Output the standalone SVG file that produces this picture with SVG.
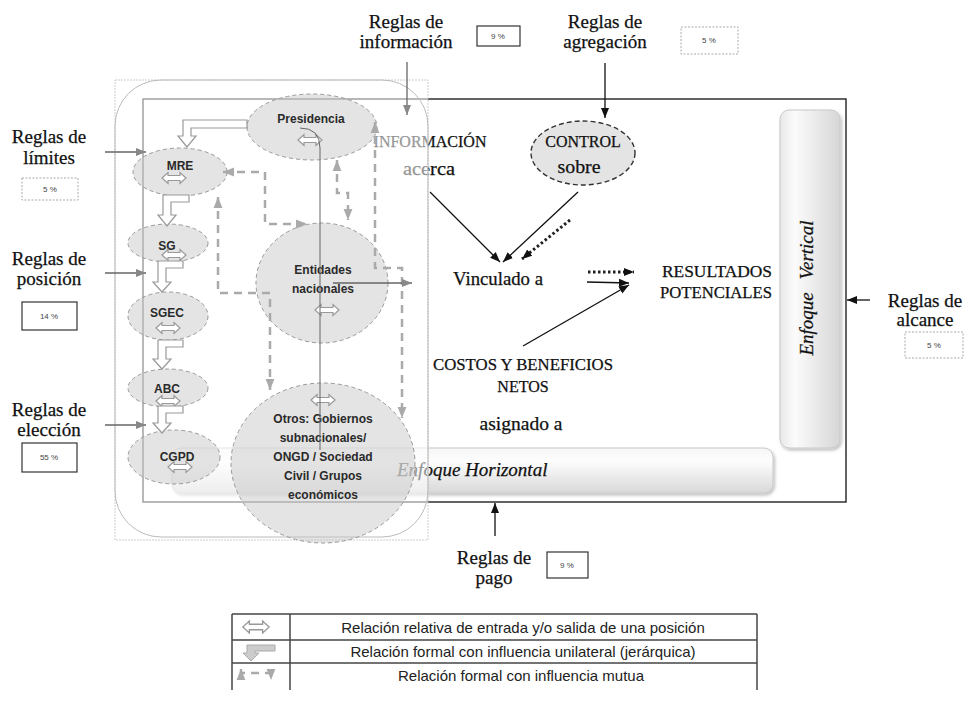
<svg xmlns="http://www.w3.org/2000/svg" width="965" height="727" viewBox="0 0 965 727">
<defs>
<style>
.serif{font-family:"Liberation Serif","Times New Roman",serif;fill:#111;stroke:#111;stroke-width:0.25}
.rule{font-size:19px;text-anchor:middle}
.main{font-size:16px;text-anchor:middle}
.low{font-size:18px;text-anchor:middle}
.ital{font-style:italic;font-size:19px}
.node{font-family:"Liberation Sans",Arial,sans-serif;font-weight:bold;font-size:12px;fill:#2a2a2a;text-anchor:middle}
.pct{font-family:"Liberation Sans",Arial,sans-serif;font-size:8px;fill:#444;text-anchor:middle}
.boxs{fill:#fff;stroke:#333;stroke-width:1.2}
.boxd{fill:#fff;stroke:#aaa;stroke-width:1;stroke-dasharray:2,1.5}
.ell{fill:#c4c4c4;fill-opacity:0.45;stroke:#999;stroke-width:1;stroke-dasharray:4,3}
.dg{fill:none;stroke:#aaa;stroke-width:2.5;stroke-dasharray:8,6}
.blk{fill:none;stroke:#111;stroke-width:1.3}
.gry{fill:none;stroke:#666;stroke-width:1.3}
.dot{fill:none;stroke:#222;stroke-width:3;stroke-dasharray:2.5,2.5}
.harr{fill:#fff;stroke:#999;stroke-width:1.2}
.dbl{fill:#fff;stroke:#999;stroke-width:1.2}
.leg{font-family:"Liberation Sans",Arial,sans-serif;font-size:15px;fill:#222;text-anchor:middle}
.tl{stroke:#444;stroke-width:1.5}
</style>
<marker id="ab" viewBox="0 0 10 10" refX="10" refY="5" markerWidth="10" markerHeight="10" markerUnits="userSpaceOnUse" orient="auto-start-reverse"><path d="M0,1 L10,5 L0,9 z" fill="#111"/></marker>
<marker id="ag" viewBox="0 0 10 10" refX="10" refY="5" markerWidth="10" markerHeight="10" markerUnits="userSpaceOnUse" orient="auto-start-reverse"><path d="M0,1 L10,5 L0,9 z" fill="#888"/></marker>
<marker id="ad" viewBox="0 0 10 10" refX="10" refY="5" markerWidth="11" markerHeight="11" markerUnits="userSpaceOnUse" orient="auto-start-reverse"><path d="M0,1 L10,5 L0,9 z" fill="#aaa"/></marker>
<path id="dblp" d="M-12,0 L-6,-5.5 L-6,-2.5 L6,-2.5 L6,-5.5 L12,0 L6,5.5 L6,2.5 L-6,2.5 L-6,5.5 Z"/>
<linearGradient id="gv" x1="0" y1="0" x2="1" y2="0"><stop offset="0" stop-color="#e8e8e8"/><stop offset="0.25" stop-color="#fbfbfb"/><stop offset="1" stop-color="#d6d6d6"/></linearGradient>
<linearGradient id="gh" x1="0" y1="0" x2="0" y2="1"><stop offset="0" stop-color="#f6f6f6"/><stop offset="0.3" stop-color="#fdfdfd"/><stop offset="1" stop-color="#d8d8d8"/></linearGradient>
<filter id="sh" x="-10%" y="-10%" width="130%" height="130%"><feDropShadow dx="1.5" dy="2" stdDeviation="1.5" flood-color="#000" flood-opacity="0.25"/></filter>
</defs>

<rect width="965" height="727" fill="#fff"/>

<g id="frame">
<rect x="143" y="99" width="703" height="403" fill="#fff" stroke="#222" stroke-width="1.4"/>
</g>

<g id="enfoque-horizontal">
<rect x="172" y="448" width="601" height="45" rx="9" fill="url(#gh)" stroke="#c8c8c8" filter="url(#sh)"/>
<text class="serif ital" x="397" y="476">Enfoque Horizontal</text>
</g>
<g id="enfoque-vertical">
<rect x="780" y="110" width="60" height="338" rx="9" fill="url(#gv)" stroke="#c8c8c8" filter="url(#sh)"/>
<text class="serif ital" text-anchor="middle" transform="translate(813,288) rotate(-90)">Enfoque <tspan dx="8">Vertical</tspan></text>
</g>

<g id="informacion"><text class="serif main" x="430" y="147">INFORMACIÓN</text><text class="serif low" x="429" y="175" textLength="52" lengthAdjust="spacingAndGlyphs">acerca</text></g>
<g id="control">
<ellipse cx="583" cy="153" rx="52" ry="32" fill="#e4e4e4" stroke="#333" stroke-width="1.4" stroke-dasharray="5,3"/>
<text class="serif main" x="583" y="147">CONTROL</text><text class="serif low" x="579" y="173" textLength="43" lengthAdjust="spacingAndGlyphs">sobre</text>
</g>
<g id="vinculado"><text class="serif low" x="498" y="285" textLength="90" lengthAdjust="spacingAndGlyphs">Vinculado a</text></g>
<g id="resultados"><text class="serif main" x="717" y="277" textLength="110" lengthAdjust="spacingAndGlyphs">RESULTADOS</text><text class="serif main" x="716" y="298" textLength="112" lengthAdjust="spacingAndGlyphs">POTENCIALES</text></g>
<g id="costos"><text class="serif main" x="523" y="370" textLength="180" lengthAdjust="spacingAndGlyphs">COSTOS Y BENEFICIOS</text><text class="serif main" x="523" y="392">NETOS</text><text class="serif low" x="521" y="430" textLength="83" lengthAdjust="spacingAndGlyphs">asignado a</text></g>

<g id="panel">
<rect x="115" y="80" width="313" height="460" fill="#fff" fill-opacity="0.55" stroke="#ccc" stroke-width="1" stroke-dasharray="2,1"/>
<rect x="115" y="80" width="313" height="457" rx="46" fill="none" stroke="#bbb" stroke-width="1"/>
</g>

<g id="presidencia"><ellipse class="ell" cx="312" cy="127" rx="65" ry="33"/><text class="node" x="311" y="123">Presidencia</text><use href="#dblp" class="dbl" x="310" y="140"/></g>
<g id="mre"><ellipse class="ell" cx="180" cy="172" rx="47" ry="24"/><text class="node" x="180" y="170">MRE</text><use href="#dblp" class="dbl" x="174" y="178"/></g>
<g id="sg"><ellipse class="ell" cx="168" cy="243" rx="40" ry="19"/><text class="node" x="167" y="250">SG</text><use href="#dblp" class="dbl" x="174" y="255"/></g>
<g id="sgec"><ellipse class="ell" cx="168" cy="316" rx="40" ry="24"/><text class="node" x="167" y="317">SGEC</text><use href="#dblp" class="dbl" x="168" y="328"/></g>
<g id="abc"><ellipse class="ell" cx="168" cy="388" rx="40" ry="19"/><text class="node" x="167" y="393">ABC</text><use href="#dblp" class="dbl" x="168" y="401"/></g>
<g id="cgpd"><ellipse class="ell" cx="174" cy="457" rx="46" ry="27"/><text class="node" x="177" y="461">CGPD</text><use href="#dblp" class="dbl" x="180" y="467"/></g>
<g id="entidades"><ellipse class="ell" cx="322" cy="283" rx="66" ry="60"/><text class="node" x="323" y="274">Entidades</text><text class="node" x="323" y="293">nacionales</text><use href="#dblp" class="dbl" x="327" y="310"/></g>
<g id="otros"><ellipse class="ell" cx="323" cy="463" rx="92" ry="80"/><use href="#dblp" class="dbl" x="323" y="400"/>
<text class="node" x="323" y="423">Otros: Gobiernos</text><text class="node" x="323" y="442">subnacionales/</text><text class="node" x="323" y="461">ONGD / Sociedad</text><text class="node" x="323" y="480">Civil / Grupos</text><text class="node" x="323" y="499">económicos</text></g>

<g id="regla-informacion"><text class="serif rule" x="406" y="28">Reglas de</text><text class="serif rule" x="406" y="48">información</text><rect class="boxs" x="477" y="26" width="43" height="20"/><text class="pct" x="498" y="39">9 %</text></g>
<g id="regla-agregacion"><text class="serif rule" x="605" y="28">Reglas de</text><text class="serif rule" x="605" y="48">agregación</text><rect class="boxd" x="681" y="27" width="57" height="27"/><text class="pct" x="709" y="43">5 %</text></g>
<g id="regla-limites"><text class="serif rule" x="49" y="143">Reglas de</text><text class="serif rule" x="49" y="164">límites</text><rect class="boxd" x="22" y="178" width="56" height="22"/><text class="pct" x="50" y="192">5 %</text></g>
<g id="regla-posicion"><text class="serif rule" x="49" y="265">Reglas de</text><text class="serif rule" x="49" y="285">posición</text><rect class="boxs" x="22" y="302" width="55" height="28"/><text class="pct" x="49" y="319">14 %</text></g>
<g id="regla-eleccion"><text class="serif rule" x="49" y="416">Reglas de</text><text class="serif rule" x="49" y="436">elección</text><rect class="boxs" x="22" y="443" width="55" height="29"/><text class="pct" x="49" y="460">55 %</text></g>
<g id="regla-alcance"><text class="serif rule" x="925" y="307">Reglas de</text><text class="serif rule" x="925" y="326">alcance</text><rect class="boxd" x="905" y="332" width="58" height="26"/><text class="pct" x="934" y="348">5 %</text></g>
<g id="regla-pago"><text class="serif rule" x="494" y="564">Reglas de</text><text class="serif rule" x="494" y="584">pago</text><rect class="boxs" x="547" y="552" width="41" height="26"/><text class="pct" x="567" y="568">9 %</text></g>

<g id="connectors">
<path class="harr" d="M247,120 L183,120 L183,136 L178,136 L187,147 L196,136 L191,136 L191,128 L247,128 Z"/>
<path class="harr" d="M189,195 L163,195 L163,215 L158,215 L167,226 L176,215 L171,215 L171,202 L189,202 Z"/>
<path class="harr" d="M183,261 L158,261 L158,282 L153,282 L162,292 L171,282 L166,282 L166,268 L183,268 Z"/>
<path class="harr" d="M183,340 L158,340 L158,359 L153,359 L162,369 L171,359 L166,359 L166,347 L183,347 Z"/>
<path class="harr" d="M183,406 L158,406 L158,423 L153,423 L162,433 L171,423 L166,423 L166,413 L183,413 Z"/>

<path class="dg" d="M223,172 L265,172 L265,224 L307,224" marker-start="url(#ad)" marker-end="url(#ad)"/>
<path class="dg" d="M218,197 L218,293 L270,293 L270,390" marker-start="url(#ad)" marker-end="url(#ad)"/>
<path class="dg" d="M337,160 L337,193 L348,193 L348,220" marker-start="url(#ad)" marker-end="url(#ad)"/>
<path class="dg" d="M375,122 L375,268 L402,268 L402,418" marker-start="url(#ad)" marker-end="url(#ad)"/>

<path d="M300,128 Q320,128 320,148 L320,450" fill="none" stroke="#666" stroke-width="1"/>
<path class="gry" d="M333,283 L412,283" stroke="#888" marker-end="url(#ag)"/>

<path class="gry" d="M407,62 L407,115" stroke="#888" marker-end="url(#ag)"/>
<path class="blk" d="M605,63 L605,118" marker-end="url(#ab)"/>
<path class="gry" d="M105,152 L146,152" marker-end="url(#ag)"/>
<path class="gry" d="M105,273 L146,273" marker-end="url(#ag)"/>
<path class="gry" d="M105,425 L146,425" marker-end="url(#ag)"/>
<path class="blk" d="M870,300 L847,300" marker-end="url(#ab)"/>
<path class="blk" d="M495,536 L495,503" marker-end="url(#ab)"/>

<path class="blk" d="M430,192 L500,262" marker-end="url(#ab)"/>
<path class="blk" d="M578,192 L503,262" marker-end="url(#ab)"/>
<path class="dot" d="M570,220 L522,259" marker-end="url(#ab)"/>
<path class="dot" d="M588,272 L634,272" marker-end="url(#ab)"/>
<path class="blk" d="M587,282 L629,283" marker-end="url(#ab)"/>
<path class="blk" d="M523,346 L629,285" marker-end="url(#ab)"/>
</g>

<g id="legend">
<line class="tl" x1="232" y1="614" x2="757" y2="614" stroke-width="2"/>
<line class="tl" x1="232" y1="640" x2="757" y2="640"/>
<line class="tl" x1="232" y1="663" x2="757" y2="663"/>
<line class="tl" x1="232" y1="614" x2="232" y2="690"/>
<line class="tl" x1="290" y1="614" x2="290" y2="690"/>
<line class="tl" x1="757" y1="614" x2="757" y2="690"/>
<use href="#dblp" class="dbl" x="256" y="627" transform="translate(256,627) scale(1.1) translate(-256,-627)"/>
<path d="M275,645 L247,645 L247,653 L243,653 L251,661 L259,653 L255,653 L255,651 L275,651 Z" fill="#ccc" stroke="#aaa"/>
<path class="dg" d="M241,669 L241,673 L271,673 L271,680" stroke-width="2" stroke-dasharray="6,4" marker-start="url(#ad)" marker-end="url(#ad)"/>
<text class="leg" x="523" y="633">Relación relativa de entrada y/o salida de una posición</text>
<text class="leg" x="523" y="657">Relación formal con influencia unilateral (jerárquica)</text>
<text class="leg" x="521" y="681">Relación formal con influencia mutua</text>
</g>
</svg>
